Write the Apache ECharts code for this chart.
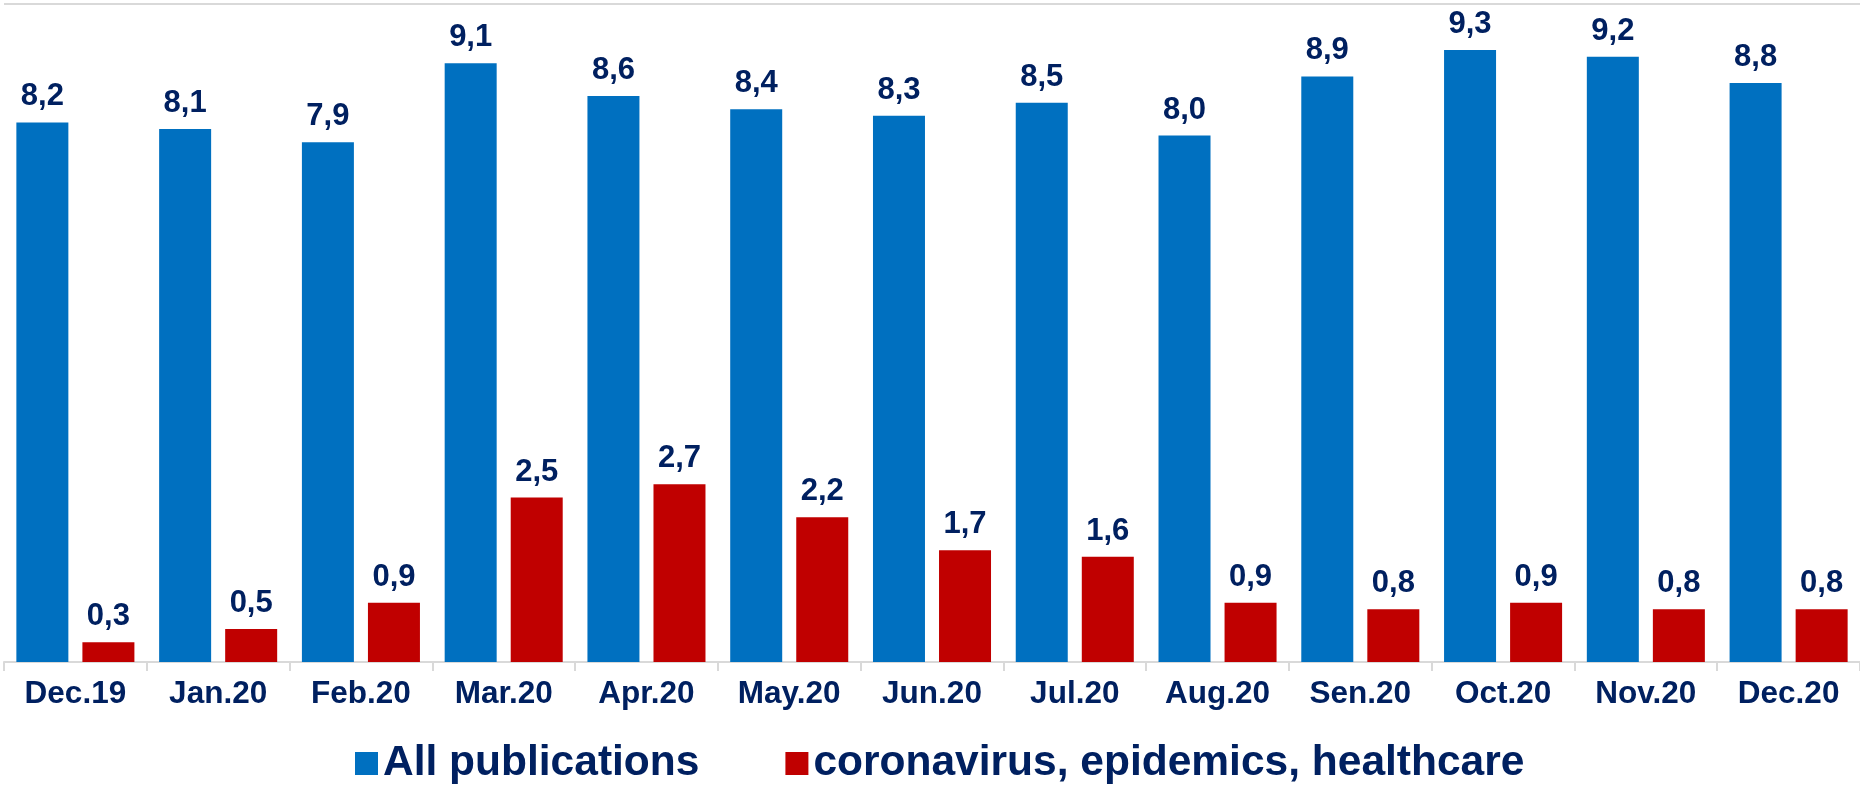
<!DOCTYPE html>
<html>
<head>
<meta charset="utf-8">
<script src="https://cdn.jsdelivr.net/npm/echarts@6/dist/echarts.min.js"></script>
<style>
  html, body { margin: 0; padding: 0; background: #ffffff; }
  #chart { width: 1860px; height: 788px; }
</style>
</head>
<body>
<div id="chart"></div>
<script>
// Monthly share of publications, Dec 2019 - Dec 2020
const months = ['Dec.19', 'Jan.20', 'Feb.20', 'Mar.20', 'Apr.20', 'May.20', 'Jun.20',
                'Jul.20', 'Aug.20', 'Sen.20', 'Oct.20', 'Nov.20', 'Dec.20'];
const allPublications = [8.2, 8.1, 7.9, 9.1, 8.6, 8.4, 8.3, 8.5, 8.0, 8.9, 9.3, 9.2, 8.8];
const coronaPublications = [0.3, 0.5, 0.9, 2.5, 2.7, 2.2, 1.7, 1.6, 0.9, 0.8, 0.9, 0.8, 0.8];
const seriesNames = ['All publications', 'coronavirus, epidemics, healthcare'];

const FONT = '"Liberation Sans", Arial, sans-serif';
const NAVY = '#002060';

const commaFormat = p => p.value.toFixed(1).replace('.', ',');

const valueLabel = {
  show: true,
  position: 'top',
  distance: 10,
  color: NAVY,
  fontFamily: FONT,
  fontWeight: 'bold',
  fontSize: 31,
  formatter: commaFormat
};

const chart = echarts.init(document.getElementById('chart'), null, { renderer: 'canvas' });
chart.setOption({
  animation: false,
  backgroundColor: '#ffffff',
  grid: { left: 4, right: 0, top: 4, bottom: 126, containLabel: false },
  legend: {
    left: 350,
    top: 737,
    itemWidth: 23,
    itemHeight: 23,
    itemGap: 86,
    icon: 'rect',
    textStyle: { color: NAVY, fontFamily: FONT, fontWeight: 'bold', fontSize: 42.5 },
    data: seriesNames
  },
  xAxis: {
    type: 'category',
    data: months,
    axisLine: { lineStyle: { color: '#d9d9d9', width: 2 } },
    axisTick: { show: true, length: 9, lineStyle: { color: '#d9d9d9', width: 2 } },
    axisLabel: {
      color: NAVY, fontFamily: FONT, fontWeight: 'bold', fontSize: 31.5, margin: 16
    }
  },
  yAxis: {
    type: 'value',
    min: 0,
    max: 10,
    interval: 10,
    axisLabel: { show: false },
    axisLine: { show: false },
    axisTick: { show: false },
    splitLine: { show: true, lineStyle: { color: '#d9d9d9', width: 2 } }
  },
  series: [
    {
      name: seriesNames[0],
      type: 'bar',
      data: allPublications,
      barWidth: 52,
      barGap: '27%',
      itemStyle: { color: '#0070C0' },
      label: valueLabel
    },
    {
      name: seriesNames[1],
      type: 'bar',
      data: coronaPublications,
      barWidth: 52,
      barGap: '27%',
      itemStyle: { color: '#C00000' },
      label: valueLabel
    }
  ]
});
</script>
</body>
</html>
